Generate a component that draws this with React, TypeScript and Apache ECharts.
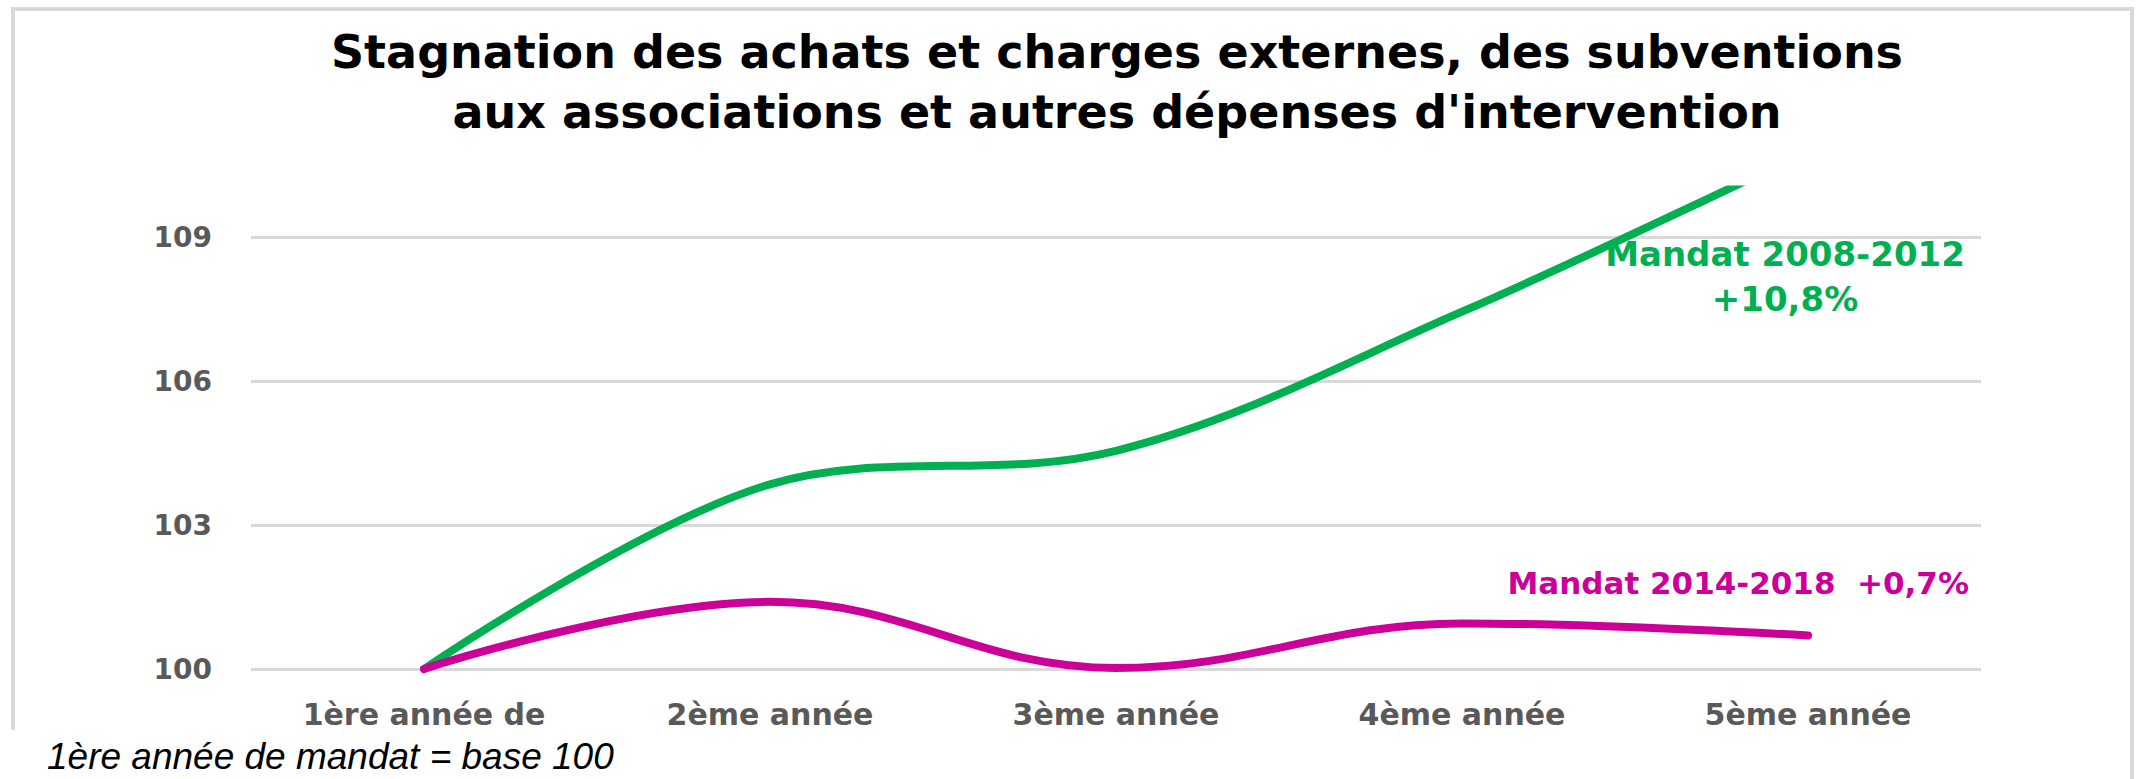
import React, { useEffect, useRef } from "react";
import * as echarts from "echarts";

const categories = ["1ère année de", "2ème année", "3ème année", "4ème année", "5ème année"];
const mandat2008 = [100, 103.85, 104.55, 107.45, 110.8];
const mandat2014 = [100, 101.4, 100.02, 100.95, 100.7];
const yTicksMin = 100;
const yTicksMax = 109;
const yTickStep = 3;
const yPlotMax = 110;

const titleText = "Stagnation des achats et charges externes, des subventions\naux associations et autres dépenses d'intervention";
const label2008 = "Mandat 2008-2012\n+10,8%";
const label2014 = "Mandat 2014-2018  +0,7%";
const noteText = "1ère année de mandat = base 100";

const GREEN = "#00B050";
const MAGENTA = "#CC0099";
const GREY = "#595959";
const GRID = "#D9D9D9";
const FONT = "DejaVu Sans";

export default function App() {
  const ref = useRef<HTMLDivElement>(null);
  useEffect(() => {
    if (!ref.current) return;
    const chart = echarts.init(ref.current, undefined, { renderer: "svg" });
    const left = 251;
    const right = 155;
    const bottom = 110;
    chart.setOption({
      animation: false,
      backgroundColor: "#ffffff",
      grid: [
        { left, right, top: 237.3, bottom, containLabel: false },
        { left, right, top: 189.4, bottom, containLabel: false },
      ],
      xAxis: [
        {
          type: "category",
          gridIndex: 0,
          data: categories,
          show: false,
        },
        {
          type: "category",
          gridIndex: 1,
          data: categories,
          axisLine: { show: false },
          axisTick: { show: false },
          axisLabel: {
            margin: 30,
            color: GREY,
            fontFamily: FONT,
            fontWeight: "bold",
            fontSize: 30,
          },
        },
      ],
      yAxis: [
        {
          type: "value",
          gridIndex: 0,
          min: yTicksMin,
          max: yTicksMax,
          interval: yTickStep,
          axisLine: { show: false },
          axisTick: { show: false },
          splitLine: { show: true, lineStyle: { color: GRID, width: 3 } },
          axisLabel: {
            margin: 39,
            color: GREY,
            fontFamily: FONT,
            fontWeight: "bold",
            fontSize: 28,
          },
        },
        {
          type: "value",
          gridIndex: 1,
          min: yTicksMin,
          max: yPlotMax,
          show: false,
          splitLine: { show: false },
        },
      ],
      series: [
        {
          type: "line",
          name: "Mandat 2008-2012",
          xAxisIndex: 1,
          yAxisIndex: 1,
          data: mandat2008,
          smooth: 0.35,
          showSymbol: false,
          clip: true,
          lineStyle: { color: GREEN, width: 8, cap: "round" },
          itemStyle: { color: GREEN },
        },
        {
          type: "line",
          name: "Mandat 2014-2018",
          xAxisIndex: 1,
          yAxisIndex: 1,
          data: mandat2014,
          smooth: 0.4,
          showSymbol: false,
          clip: true,
          lineStyle: { color: MAGENTA, width: 8, cap: "round" },
          itemStyle: { color: MAGENTA },
        },
      ],
      graphic: [
        {
          type: "rect",
          z: -10,
          silent: true,
          shape: { x: 13, y: 9, width: 2119, height: 800 },
          style: { fill: "#ffffff", stroke: GRID, lineWidth: 4 },
        },
        {
          type: "rect",
          z: -5,
          silent: true,
          shape: { x: 0, y: 730, width: 680, height: 60 },
          style: { fill: "#ffffff" },
        },
        {
          type: "text",
          x: 1117,
          y: 82,
          style: {
            text: titleText,
            fill: "#000000",
            font: `bold 46px "${FONT}"`,
            lineHeight: 60,
            align: "center",
            verticalAlign: "middle",
          },
        },
        {
          type: "text",
          x: 1785,
          y: 276,
          z: 10,
          style: {
            text: label2008,
            fill: GREEN,
            font: `bold 34px "${FONT}"`,
            lineHeight: 45,
            align: "center",
            verticalAlign: "middle",
          },
        },
        {
          type: "text",
          x: 1969,
          y: 583,
          z: 10,
          style: {
            text: label2014,
            fill: MAGENTA,
            font: `bold 31px "${FONT}"`,
            align: "right",
            verticalAlign: "middle",
          },
        },
        {
          type: "text",
          x: 47,
          y: 776,
          z: 10,
          style: {
            text: noteText,
            fill: "#000000",
            font: `italic 37px "Liberation Sans"`,
            lineHeight: 40,
            align: "left",
            verticalAlign: "bottom",
          },
        },
      ],
    });
    return () => chart.dispose();
  }, []);
  return (
    <div
      ref={ref}
      style={{ position: "fixed", left: 0, top: 0, width: 2136, height: 779 }}
    />
  );
}
